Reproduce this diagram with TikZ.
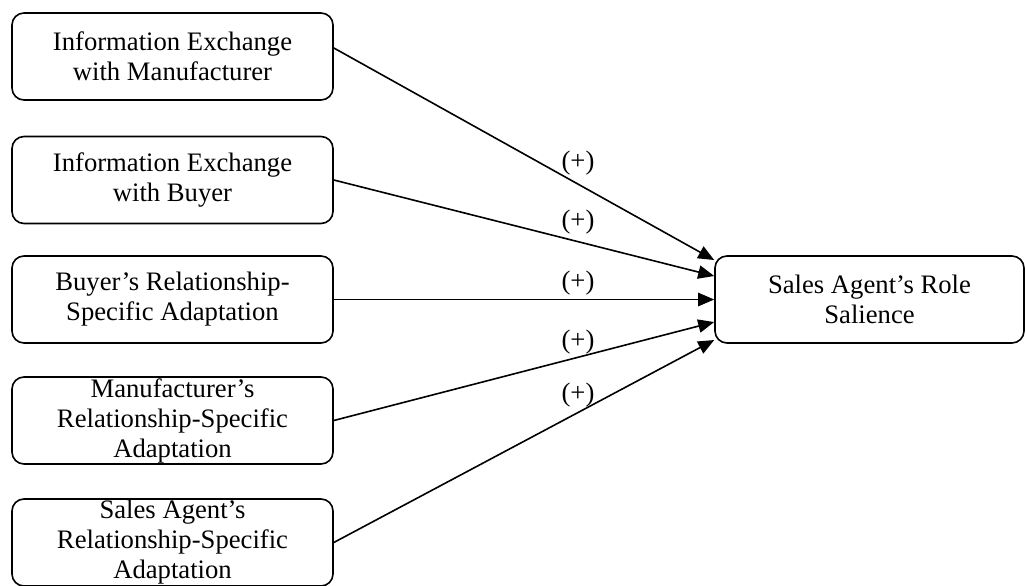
\documentclass[tikz,border=0pt]{standalone}
\usepackage{fontspec}
\setmainfont{Liberation Serif}
\usetikzlibrary{arrows.meta}
\usetikzlibrary{positioning}

\begin{document}
\begin{tikzpicture}[
        x=0.75pt, y=-0.75pt,
        factor/.style={draw, rounded corners=9pt, line width=1.2pt,
            minimum width=240.75pt, minimum height=65.25pt, inner sep=0pt,
            align=center, font=\fontsize{20}{22.5}\selectfont},
        outcome/.style={factor, minimum width=231.75pt},
        sign/.style={inner sep=1pt, font=\fontsize{20}{22.5}\selectfont},
        link/.style={line width=1.2pt, -{Triangle[length=12pt,width=10pt]}}
    ]
        \useasboundingbox (0,0) rectangle (1026,586);

        % Antecedents on the left
        \node[factor] (im) at (172.5,56.5) {Information Exchange\\with Manufacturer};
        \node[factor] (ib) at (172.5,180) {Information Exchange\\with Buyer};
        \node[factor] (ba) at (172.5,299.5) {Buyer’s Relationship-\\Specific Adaptation};
        \node[factor] (ma) at (172.5,420.5) {Manufacturer’s\\Relationship-Specific\\Adaptation};
        \node[factor] (sa) at (172.5,542.5) {Sales Agent’s\\Relationship-Specific\\Adaptation};

        % Outcome on the right
        \node[outcome] (sal) at (869.5,299.5) {Sales Agent’s Role\\Salience};

        % Paths into the outcome
        \foreach \src/\sy/\ty in {
            im/6.4/29.6,
            ib/0/17.6,
            ba/0/0,
            ma/0/-16.9,
            sa/0/-30.4
        } {
            \draw[link] ([yshift=\sy pt]\src.east) -- ([yshift=\ty pt]sal.west);
        }

        % Signs of the effects
        \foreach \n/\y in {1/163, 2/222, 3/283, 4/342, 5/395} {
            \node[sign] (plus\n) at (578,\y) {(+)};
        }
    \end{tikzpicture}
\end{document}
